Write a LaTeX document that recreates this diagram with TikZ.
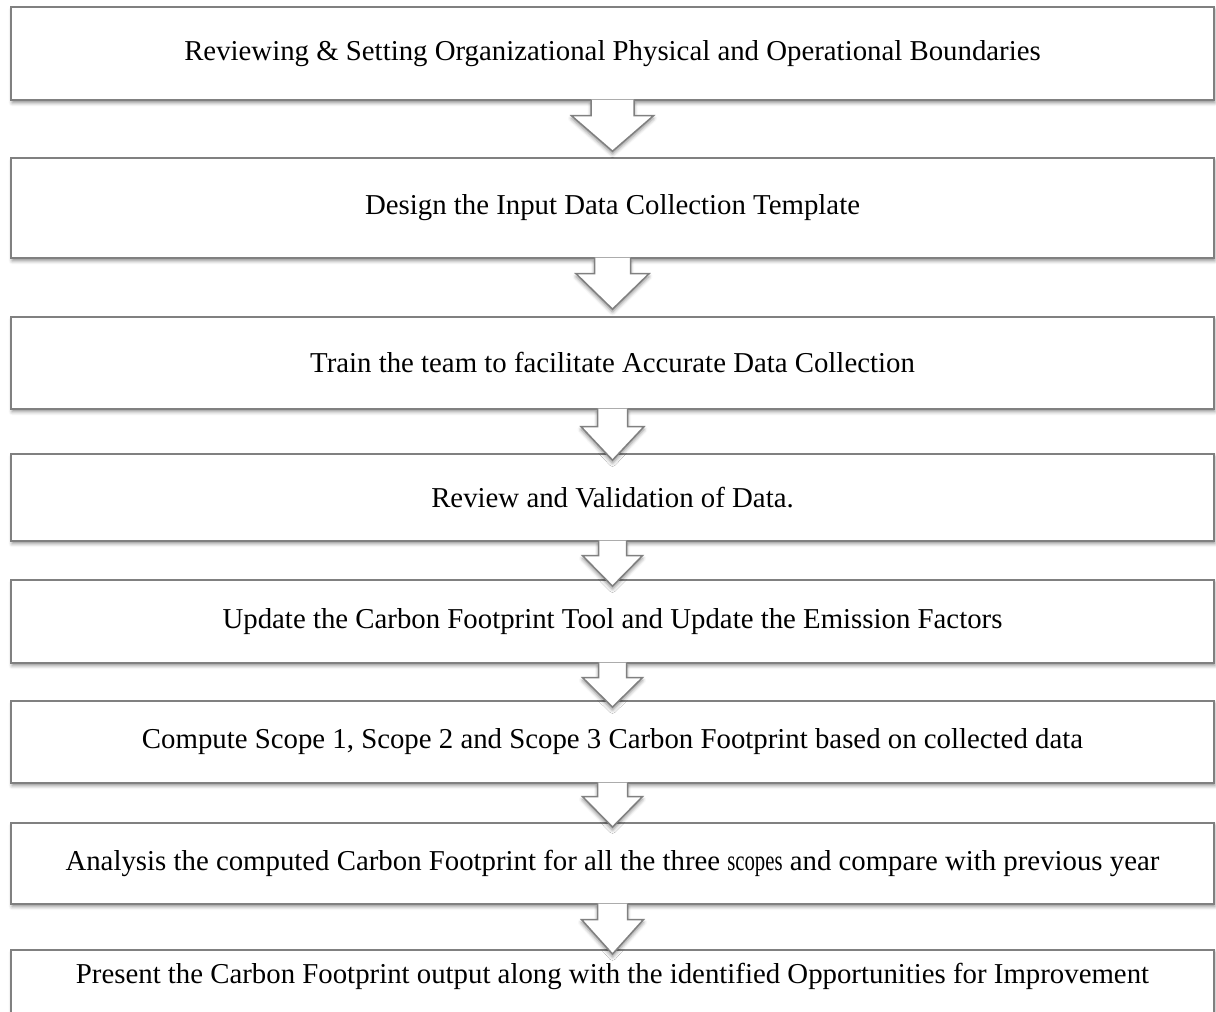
\documentclass[tikz,border=0pt]{standalone}
\usepackage{fontspec}
\setmainfont{Liberation Serif}
\usetikzlibrary{positioning,shadows.blur,calc}
\definecolor{BoxGray}{RGB}{128,128,128}
\tikzset{
  stepbox/.style={draw=BoxGray,line width=0.85pt,fill=white,
    minimum width=24.06cm,align=center,
    blur shadow={shadow xshift=0.6pt,shadow yshift=-1.6pt,
      shadow blur radius=2pt,shadow opacity=45}},
  blockarrow/.style={draw=BoxGray,line width=0.85pt,fill=white,
    line join=miter,
    blur shadow={shadow xshift=0pt,shadow yshift=-1.6pt,
      shadow blur radius=2pt,shadow opacity=45}},
}

\begin{document}
\begin{tikzpicture}[x=0.02cm,y=0.02cm,font=\fontsize{16.4}{19}\selectfont]
  \useasboundingbox (0,0) rectangle (1216,-1011);
  \node[stepbox,minimum height=1.86cm] (bound) at (612.5,-53.5) {Reviewing \& Setting Organizational Physical and Operational Boundaries};
  \node[stepbox,minimum height=2cm,below=1.13cm of bound] (template) {Design the Input Data Collection Template};
  \node[stepbox,minimum height=1.84cm,below=1.15cm of template] (train) {Train the team to facilitate Accurate Data Collection};
  \node[stepbox,minimum height=1.74cm,below=0.87cm of train] (validate) {Review and Validation of Data.};
  \node[stepbox,minimum height=1.66cm,below=0.75cm of validate] (update) {Update the Carbon Footprint Tool and Update the Emission Factors};
  \node[stepbox,minimum height=1.64cm,below=0.73cm of update] (compute) {Compute Scope 1, Scope 2 and Scope 3 Carbon Footprint based on collected data};
  \node[stepbox,minimum height=1.62cm,below=0.77cm of compute] (analyse) {Analysis the computed Carbon Footprint for all the three \scalebox{0.72}[1]{scopes} and compare with previous year};
  \node[stepbox,minimum height=1.7cm,text height=0.5cm,text depth=0.84cm,below=0.89cm of analyse] (present) {Present the Carbon Footprint output along with the identified Opportunities for Improvement};
  % hollow arrows between the steps
  \foreach \a/\b/\s/\h/\l/\t in {bound/template/21.5/41/15/6,
      template/train/18/36.5/15/7, train/validate/15/31.5/17/-7,
      validate/update/14/30/14/-7, update/compute/14/30/14/-7,
      compute/analyse/15/30/13/-5, analyse/present/15/31/15/-5}{
    \coordinate (top) at (\a.south);
    \coordinate (tip) at ($(\b.north)+(0,\t)$);
    \draw[blockarrow] ($(top)+(-\s,1)$) -- ($(top)+(-\s,-\l)$) -- ($(top)+(-\h,-\l)$)
      -- (tip) -- ($(top)+(\h,-\l)$) -- ($(top)+(\s,-\l)$) -- ($(top)+(\s,1)$);
  }
\end{tikzpicture}
\end{document}
